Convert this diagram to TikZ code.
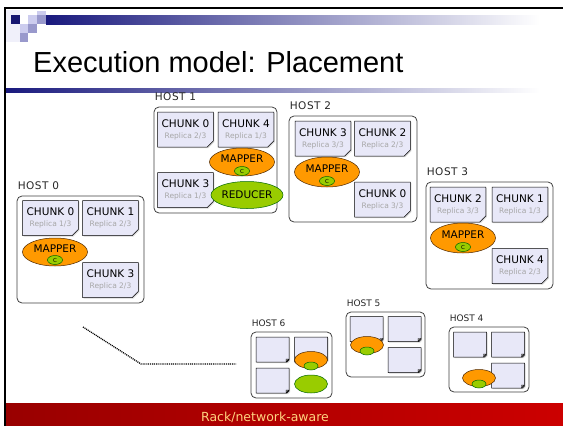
\documentclass[tikz,border=0pt]{standalone}
\usepackage{fontspec}
\setmainfont{Liberation Sans}
\newfontfamily\vfont{DejaVu Sans}
\newfontfamily\hostfont[LetterSpace=5]{DejaVu Sans}
\usetikzlibrary{shapes.geometric,shapes.misc,shadows,positioning}
\definecolor{navy}{HTML}{1A1A7E}
\definecolor{lavlight}{HTML}{CCCCEE}
\definecolor{lavmid}{HTML}{9999CC}
\definecolor{chunkfill}{HTML}{E8E8F8}
\definecolor{mapperfill}{HTML}{FF9900}
\definecolor{combinerfill}{HTML}{99CC00}
\definecolor{rackred}{HTML}{CC0000}
\definecolor{rackdark}{HTML}{990000}
\definecolor{footertext}{HTML}{FFD27F}
\newcommand\replica[1]{{\fontsize{7.5}{8}\selectfont\color{black!35}Replica #1}}

\begin{document}
\begin{tikzpicture}[x=1pt, y=-1pt,
  host/.style={draw=black!75, line width=0.8pt, rounded corners=5pt, fill=white, inner sep=0pt},
  hostlabel/.style={inner sep=0pt, font=\hostfont\fontsize{10.5}{12}\selectfont, text=black!85},
  smallhostlabel/.style={hostlabel, font=\vfont\fontsize{9}{10}\selectfont},
  fold/.style={path picture={\filldraw[fill=black!45, draw=black, line width=0.4pt]
      ([xshift=-3pt]path picture bounding box.south east) -- ([xshift=-3pt, yshift=3pt]path picture bounding box.south east)
      -- ([yshift=3pt]path picture bounding box.south east) -- cycle;}},
  chunk/.style={chamfered rectangle, chamfered rectangle corners=south east, chamfered rectangle sep=3pt,
    minimum width=55pt, minimum height=35pt, inner sep=1pt, align=center, fill=chunkfill, draw=black,
    line width=0.5pt, fold, drop shadow={shadow xshift=1pt, shadow yshift=-1pt, fill=black!30},
    font=\vfont\fontsize{10.5}{11}\selectfont},
  smallchunk/.style={chunk, minimum width=33pt, minimum height=25pt, chamfered rectangle sep=2.5pt},
  mapper/.style={ellipse, minimum width=65pt, minimum height=28pt, inner sep=0pt, fill=mapperfill,
    draw=black!70!orange, line width=0.5pt, text depth=7.5pt, font=\vfont\fontsize{10.5}{11}\selectfont},
  reducer/.style={mapper, fill=combinerfill, draw=black!60!green, text depth=0pt, minimum width=55pt, minimum height=27pt},
  combiner/.style={ellipse, minimum width=15pt, minimum height=9pt, inner sep=0pt, fill=combinerfill,
    draw=black!60!green, line width=0.5pt, font=\vfont\fontsize{5.5}{6}\selectfont},
  smallmapper/.style={mapper, minimum width=33pt, minimum height=17pt, text depth=0pt},
  smallcombiner/.style={combiner, minimum width=14pt, minimum height=8pt},
  smallreducer/.style={reducer, minimum width=33pt, minimum height=18pt},
  link/.style={line width=1.3pt, dash pattern=on 1pt off 0.9pt}
]
  \useasboundingbox (0,0) rectangle (563,426);

  % slide decoration
  \fill[lavlight!30] (6,10) rectangle (20,42);
  \fill[navy!90!black] (11,15) rectangle (20,24);
  \fill[lavlight] (28,15) rectangle (37,24);
  \fill[lavlight] (37,11) rectangle (46,15);
  \fill[lavmid] (37,15) rectangle (46,24);
  \fill[lavlight] (20,24) rectangle (28,33);
  \fill[lavmid] (28,24) rectangle (37,33);
  \fill[lavmid] (20,33) rectangle (28,42);
  \shade[left color=navy, right color=white] (46,15) rectangle (540,24.5);
  \shade[left color=navy, right color=white] (6,88) rectangle (540,92.5);
  \draw[black, line width=1.8pt] (5,426) -- (5,8.3) -- (563,8.3);
  \shade[left color=rackdark, right color=rackred] (6,403) rectangle (563,426);
  \node[anchor=base west, inner sep=0pt, font=\fontsize{29}{32}\selectfont] (title) at (33,72) {Execution model: Placement};
  \node[anchor=base, inner sep=0pt, text=footertext, font=\vfont\fontsize{12.5}{14}\selectfont] (footer) at (265,421.5) {Rack/network-aware};

  % HOST 0
  \node[host, minimum width=127pt, minimum height=107pt] (h0) at (80.5,249.5) {};
  \node[hostlabel, above right=6pt and 1pt of h0.north west] (h0lbl) {HOST 0};
  \node[chunk] (c00) at (50.5,218) {CHUNK 0\\\replica{1/3}};
  \node[chunk] (c01) at (110.5,218) {CHUNK 1\\\replica{2/3}};
  \node[chunk] (c03) at (110.5,280) {CHUNK 3\\\replica{2/3}};
  \node[mapper] (m0) at (55,252) {MAPPER};
  \node[combiner] (k0) at (55,260) {C};

  % HOST 1
  \node[host, minimum width=123pt, minimum height=106pt] (h1) at (215.5,160) {};
  \node[hostlabel, above right=6pt and 1pt of h1.north west] (h1lbl) {HOST 1};
  \node[chunk] (c10) at (185.5,129.5) {CHUNK 0\\\replica{2/3}};
  \node[chunk] (c14) at (246,129.5) {CHUNK 4\\\replica{1/3}};
  \node[chunk] (c13) at (185.5,190) {CHUNK 3\\\replica{1/3}};
  \node[mapper] (m1) at (242,162) {MAPPER};
  \node[combiner] (k1) at (242,171) {C};
  \node[reducer] (r1) at (247,195) {REDUCER};

  % HOST 2
  \node[host, minimum width=128pt, minimum height=106pt] (h2) at (353,169) {};
  \node[hostlabel, above right=6pt and 1pt of h2.north west] (h2lbl) {HOST 2};
  \node[chunk] (c23) at (323,138.5) {CHUNK 3\\\replica{3/3}};
  \node[chunk] (c22) at (382.5,138.5) {CHUNK 2\\\replica{2/3}};
  \node[chunk] (c20) at (382.5,199.5) {CHUNK 0\\\replica{3/3}};
  \node[mapper, minimum height=30pt] (m2) at (327,172) {MAPPER};
  \node[combiner] (k2) at (327,181) {C};

  % HOST 3
  \node[host, minimum width=127pt, minimum height=107pt] (h3) at (489.5,235.5) {};
  \node[hostlabel, above right=6pt and 1pt of h3.north west] (h3lbl) {HOST 3};
  \node[chunk] (c32) at (458,204.5) {CHUNK 2\\\replica{3/3}};
  \node[chunk] (c31) at (520,204.5) {CHUNK 1\\\replica{1/3}};
  \node[chunk] (c34) at (520,266) {CHUNK 4\\\replica{2/3}};
  \node[mapper, minimum height=30pt] (m3) at (463,238) {MAPPER};
  \node[combiner] (k3) at (463,247) {C};

  % HOST 6
  \node[host, minimum width=81pt, minimum height=66pt] (h6) at (291.5,365) {};
  \node[smallhostlabel, above right=5pt and 1pt of h6.north west] (h6lbl) {HOST 6};
  \node[smallchunk] (b6a) at (272.5,349.5) {};
  \node[smallchunk] (b6b) at (311,349.5) {};
  \node[smallchunk] (b6c) at (272.5,380.5) {};
  \node[smallmapper] (m6) at (311,360) {};
  \node[smallcombiner] (k6) at (311,366) {};
  \node[smallreducer] (r6) at (311,384) {};

  % HOST 5
  \node[host, minimum width=79pt, minimum height=65pt] (h5) at (385.5,344.5) {};
  \node[smallhostlabel, above right=5pt and 1pt of h5.north west] (h5lbl) {HOST 5};
  \node[smallchunk] (b5a) at (366.5,329) {};
  \node[smallchunk] (b5b) at (404.5,329) {};
  \node[smallchunk] (b5c) at (404.5,360) {};
  \node[smallmapper] (m5) at (367,345) {};
  \node[smallcombiner] (k5) at (367,351) {};

  % HOST 4
  \node[host, minimum width=80pt, minimum height=65pt] (h4) at (489,359.5) {};
  \node[smallhostlabel, above right=5pt and 1pt of h4.north west] (h4lbl) {HOST 4};
  \node[smallchunk] (b4a) at (470,344.5) {};
  \node[smallchunk] (b4b) at (508,344.5) {};
  \node[smallchunk] (b4c) at (508,375.5) {};
  \node[smallmapper] (m4) at (479,378) {};
  \node[smallcombiner] (k4) at (479,384) {};

  % rack link
  \coordinate (rackA) at (83,327);
  \coordinate (rackB) at (141,364);
  \coordinate (rackC) at (236,364);
  \draw[link] (rackA) -- (rackB) -- (rackC);
\end{tikzpicture}
\end{document}
